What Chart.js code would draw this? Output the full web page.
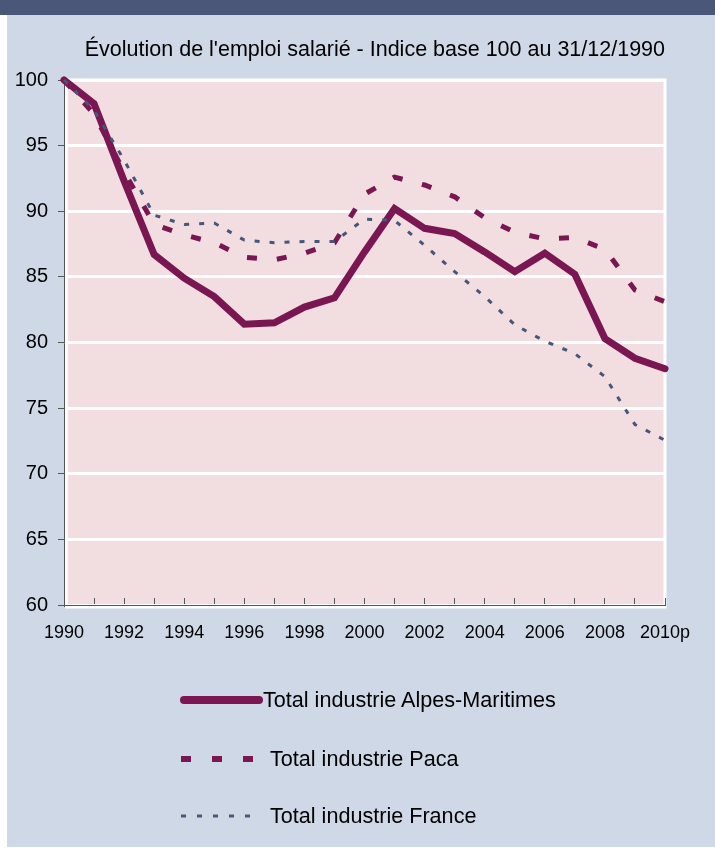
<!DOCTYPE html>
<html>
<head>
<meta charset="utf-8">
<script src="https://cdn.jsdelivr.net/npm/chart.js@4/dist/chart.umd.min.js"></script>
<style>
html,body{margin:0;padding:0;background:#fff;}
body{width:715px;height:854px;position:relative;overflow:hidden;font-family:"Liberation Sans",Arial,sans-serif;}
#banner{position:absolute;left:0;top:0;width:715px;height:15px;background:#4b5779;}
#panel{position:absolute;left:7px;top:15px;width:708px;height:832px;background:#cfd8e6;}
#c{position:absolute;left:0;top:0;}
#legsvg{position:absolute;left:0;top:0;}
.lt{position:absolute;font-size:21.6px;line-height:24px;color:#000;white-space:nowrap;}
</style>
</head>
<body>
<div id="banner"></div>
<div id="panel"></div>
<canvas id="c" width="715" height="660"></canvas>
<svg id="legsvg" width="715" height="854">
  <line x1="184" y1="700" x2="259" y2="700" stroke="#7a1652" stroke-width="8" stroke-linecap="round"/>
  <line x1="181" y1="759" x2="254" y2="759" stroke="#7a1652" stroke-width="6" stroke-dasharray="10 21"/>
  <line x1="181" y1="816" x2="261" y2="816" stroke="#4a587c" stroke-width="2.8" stroke-dasharray="5 11"/>
</svg>
<div class="lt" id="l1" style="left:263px;top:688px;"></div>
<div class="lt" id="l2" style="left:270px;top:747px;"></div>
<div class="lt" id="l3" style="left:270px;top:804px;"></div>
<script>
const years = ['1990','1991','1992','1993','1994','1995','1996','1997','1998','1999','2000',
               '2001','2002','2003','2004','2005','2006','2007','2008','2009','2010p'];
const alpesMaritimes = [100, 98.2, 92.3, 86.7, 84.9, 83.5, 81.4, 81.5, 82.7, 83.4, 86.9,
                        90.2, 88.7, 88.3, 86.9, 85.4, 86.8, 85.2, 80.3, 78.8, 78.0];
const paca = [100, 97.4, 93.0, 89.0, 88.2, 87.6, 86.5, 86.3, 86.8, 87.6, 91.3,
              92.6, 92.0, 91.1, 89.5, 88.4, 87.9, 88.0, 87.1, 84.0, 83.1];
const france = [100, 97.7, 93.9, 89.7, 89.0, 89.1, 87.8, 87.6, 87.7, 87.7, 89.4,
                89.3, 87.4, 85.4, 83.5, 81.35, 80.1, 79.15, 77.4, 73.75, 72.55];
const seriesNames = ['Total industrie Alpes-Maritimes', 'Total industrie Paca', 'Total industrie France'];
const titleText = "Évolution de l'emploi salarié - Indice base 100 au 31/12/1990";

document.getElementById('l1').textContent = seriesNames[0];
document.getElementById('l2').textContent = seriesNames[1];
document.getElementById('l3').textContent = seriesNames[2];

const FONT = '"Liberation Sans", Arial, sans-serif';

const plotBg = {
  id: 'plotBg',
  beforeDraw(chart) {
    const {ctx, chartArea: {left, top, right, bottom}} = chart;
    ctx.save();
    ctx.fillStyle = '#f2dee1';
    ctx.fillRect(left, top, right - left, bottom - top);
    ctx.strokeStyle = '#ffffff';
    ctx.lineWidth = 3;
    ctx.strokeRect(left + 2.5, top, right - left - 2.5, bottom - top + 2);
    ctx.restore();
  }
};

new Chart(document.getElementById('c'), {
  type: 'line',
  data: {
    labels: years,
    datasets: [
      {
        label: seriesNames[0], data: alpesMaritimes,
        borderColor: '#7a1652', borderWidth: 7, borderCapStyle: 'round',
        pointRadius: 0, tension: 0, order: 2, clip: false
      },
      {
        label: seriesNames[1], data: paca,
        borderColor: '#7a1652', borderWidth: 5, borderDash: [10, 20],
        pointRadius: 0, tension: 0, order: 1, clip: false
      },
      {
        label: seriesNames[2], data: france,
        borderColor: '#46557a', borderWidth: 3, borderDash: [5, 10],
        pointRadius: 0, tension: 0, order: 0, clip: false
      }
    ]
  },
  options: {
    responsive: false,
    animation: false,
    devicePixelRatio: 1,
    layout: { padding: { left: 0, right: 50, top: 0, bottom: 0 } },
    plugins: {
      legend: { display: false },
      tooltip: { enabled: false },
      title: {
        display: true, text: titleText, align: 'end', color: '#000',
        font: { family: FONT, size: 21.5, weight: 'normal' },
        padding: { top: 37.1, bottom: 17.1 }
      }
    },
    scales: {
      x: {
        offset: false,
        afterFit(scale) { scale.height = 55; },
        grid: {
          display: true, drawOnChartArea: false, drawTicks: true, tickLength: -7,
          color: '#555', tickColor: '#555', tickWidth: 1, lineWidth: 1
        },
        border: { display: true, color: '#555', width: 1 },
        ticks: {
          autoSkip: false, maxRotation: 0, minRotation: 0, padding: 24.2,
          color: '#000', font: { family: FONT, size: 18 },
          callback: (v, i) => (i % 2 === 0 ? years[i] : '')
        }
      },
      y: {
        min: 60, max: 100,
        afterFit(scale) { scale.width = 64; },
        grid: {
          display: true, drawOnChartArea: true, drawTicks: true, tickLength: 6,
          color: '#ffffff', lineWidth: 3, tickColor: '#555', tickWidth: 1
        },
        border: { display: true, color: '#555', width: 1 },
        ticks: {
          stepSize: 5, padding: 10, color: '#000',
          font: { family: FONT, size: 20 }
        }
      }
    }
  },
  plugins: [plotBg]
});
</script>
</body>
</html>
